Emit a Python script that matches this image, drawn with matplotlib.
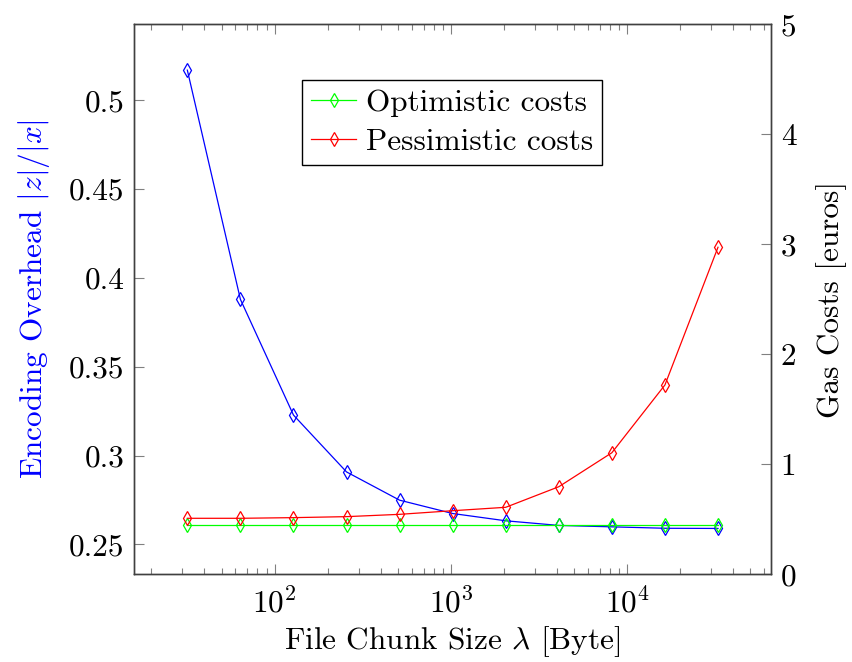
"""
Overhead de codificacao vs custo de gas, por tamanho de chunk
"""

import numpy as np
import matplotlib
matplotlib.use('Agg')
import matplotlib.pyplot as plt
from matplotlib.ticker import FuncFormatter, LogLocator, FixedLocator

plt.rcParams['font.family'] = 'serif'
plt.rcParams['font.serif'] = ['cmr10', 'DejaVu Serif']
plt.rcParams['mathtext.fontset'] = 'cm'
plt.rcParams['axes.formatter.use_mathtext'] = True

# dados
chunk_size = [32, 64, 128, 256, 512, 1024, 2048, 4096, 8192, 16384, 32768]
overhead = [0.5169, 0.3879, 0.3228, 0.2908, 0.2749, 0.2674, 0.2633,
            0.2607, 0.2599, 0.2591, 0.2590]
optimistic = [0.445] * 11
pessimistic = [0.509, 0.509, 0.515, 0.524, 0.545, 0.578, 0.609,
               0.796, 1.105, 1.721, 2.973]

left_ticks = [0.25, 0.3, 0.35, 0.4, 0.45, 0.5]
right_ticks = [0, 1, 2, 3, 4, 5]

fs = 22.5
spine_col = '#404040'
tick_col = '#808080'

fig = plt.figure(figsize=(8.52, 6.62), dpi=100)
ax = fig.add_axes([0.1576, 0.1325, 0.905 - 0.1576, 0.9633 - 0.1325])
ax2 = ax.twinx()

mk = dict(marker='d', markersize=7.5, markerfacecolor='none',
          markeredgewidth=0.9, linewidth=0.9)

ax.plot(chunk_size, overhead, color='blue', **mk)
l1, = ax2.plot(chunk_size, optimistic, color='#00ff00', label='Optimistic costs', **mk)
l2, = ax2.plot(chunk_size, pessimistic, color='red', label='Pessimistic costs', **mk)

ax.set_xscale('log')
ax.set_xlim(2**4, 2**16)
ax.set_ylim(0.2332, 0.5427)
ax2.set_ylim(0, 5)

ax.yaxis.set_major_locator(FixedLocator(left_ticks))
ax.yaxis.set_major_formatter(FuncFormatter(lambda v, p: '%g' % v))
ax2.yaxis.set_major_locator(FixedLocator(right_ticks))
ax2.yaxis.set_major_formatter(FuncFormatter(lambda v, p: '%g' % v))
ax.xaxis.set_major_locator(LogLocator(base=10, numticks=10))
ax.xaxis.set_minor_locator(LogLocator(base=10, subs=np.arange(2, 10), numticks=10))

for a in (ax, ax2):
    for s in a.spines.values():
        s.set_color(spine_col)
        s.set_linewidth(1.0)

ax.tick_params(axis='x', which='both', direction='in', top=True, bottom=True,
               color=tick_col, labelsize=fs, pad=9)
ax.tick_params(axis='x', which='major', length=7, width=0.8)
ax.tick_params(axis='x', which='minor', length=4, width=0.8)
ax.tick_params(axis='y', which='both', direction='in', left=True, right=False,
               length=7, width=0.8, color=tick_col, labelsize=fs, pad=7)
ax2.tick_params(axis='y', which='both', direction='in', right=True, left=False,
                length=7, width=0.8, color=tick_col, labelsize=fs, pad=7)

ax.set_xlabel(r'File Chunk Size $\lambda$ [Byte]', fontsize=fs, labelpad=4)
ax.set_ylabel(r'Encoding Overhead $|z|/|x|$', fontsize=fs, color='blue', labelpad=12)
ax2.set_ylabel('Gas Costs [euros]', fontsize=fs, labelpad=14)

leg = ax2.legend(handles=[l1, l2], loc='upper left', bbox_to_anchor=(0.263, 0.899),
                 fontsize=fs, numpoints=1, handlelength=1.45, handletextpad=0.3,
                 borderpad=0.3, labelspacing=0.35, borderaxespad=0,
                 fancybox=False, framealpha=1)
leg.get_frame().set_edgecolor('black')
leg.get_frame().set_linewidth(1.0)

fig.savefig('out.png', dpi=100)
